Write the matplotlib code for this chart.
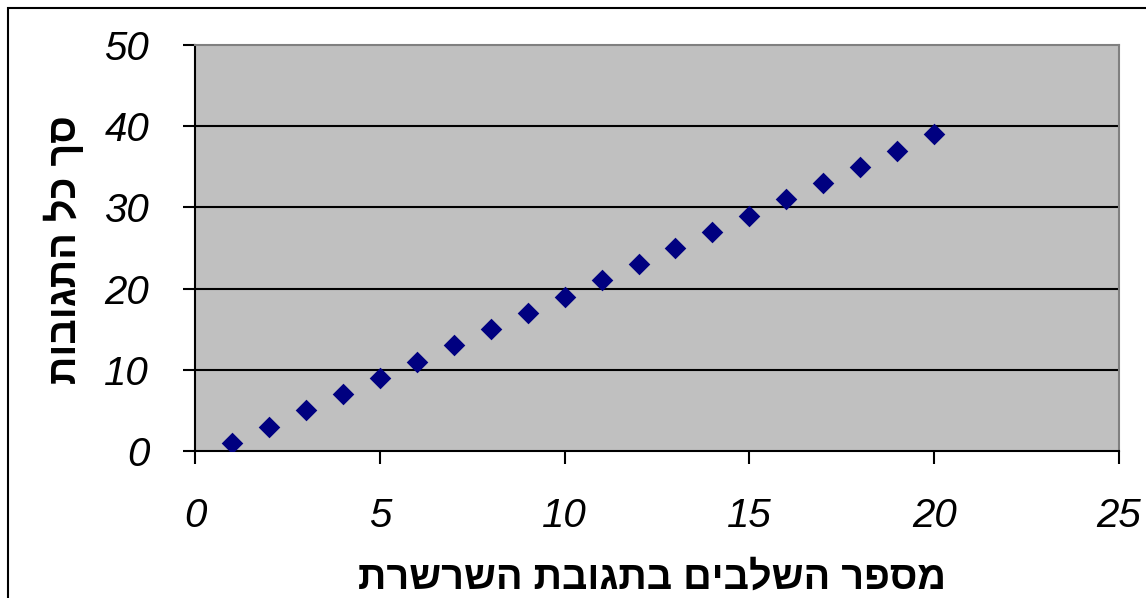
import matplotlib
matplotlib.use("Agg")
import matplotlib.pyplot as plt
from matplotlib.patches import Rectangle

# chain reaction: number of stages vs. total reactions
stages = [1, 2, 3, 4, 5, 6, 7, 8, 9, 10, 11, 12, 13, 14, 15, 16, 17, 18, 19, 20]
total_reactions = [1, 3, 5, 7, 9, 11, 13, 15, 17, 19, 21, 23, 25, 27, 29, 31, 33, 35, 37, 39]
x_ticks = [0, 5, 10, 15, 20, 25]
y_ticks = [0, 10, 20, 30, 40, 50]

x_title = "מספר השלבים בתגובת השרשרת"
y_title = "סך כל התגובות"


def visual(s):
    # matplotlib lays text out left to right, so Hebrew is flipped by hand
    return s[::-1]


W, H = 1146, 598
fig = plt.figure(figsize=(W / 100, H / 100), dpi=100)
fig.patch.set_facecolor("white")

ax = fig.add_axes([195 / W, 1 - 451 / H, (1119 - 195) / W, (451 - 45) / H])
ax.set_facecolor("#c0c0c0")
ax.scatter(stages, total_reactions, marker="D", s=11 ** 2, color="#000080",
           linewidths=0, zorder=3)

ax.set_xlim(0, 25)
ax.set_ylim(0, 50)
ax.set_xticks(x_ticks)
ax.set_yticks(y_ticks)

for y in y_ticks[1:-1]:
    ax.axhline(y, color="black", lw=1.5, zorder=1)

ax.spines["left"].set_color("black")
ax.spines["bottom"].set_color("black")
ax.spines["left"].set_linewidth(1.5)
ax.spines["bottom"].set_linewidth(1.5)
ax.spines["top"].set_color("#808080")
ax.spines["right"].set_color("#808080")
ax.spines["top"].set_linewidth(1.5)
ax.spines["right"].set_linewidth(1.5)

ax.tick_params(direction="out", length=9, width=1.5, color="black")
ax.tick_params(axis="x", pad=24)
ax.tick_params(axis="y", pad=24)
for lab in ax.get_xticklabels() + ax.get_yticklabels():
    lab.set_family(["Liberation Sans", "DejaVu Sans"])
    lab.set_style("italic")
    lab.set_fontsize(29)

fig.text(652 / W, 1 - 578 / H, visual(x_title), ha="center", va="center",
         fontsize=28.5, fontweight="bold", family=["Liberation Sans", "DejaVu Sans"])
fig.text(64 / W, 1 - 250 / H, visual(y_title), ha="center", va="center",
         rotation=90, fontsize=28.5, fontweight="bold",
         family=["Liberation Sans", "DejaVu Sans"])

# outer chart frame
fig.add_artist(Rectangle((8 / W, -0.05), 1.2, 1.05 - 8 / H, transform=fig.transFigure,
                         fill=False, edgecolor="black", lw=1.5))

fig.savefig("out.png", dpi=100)
